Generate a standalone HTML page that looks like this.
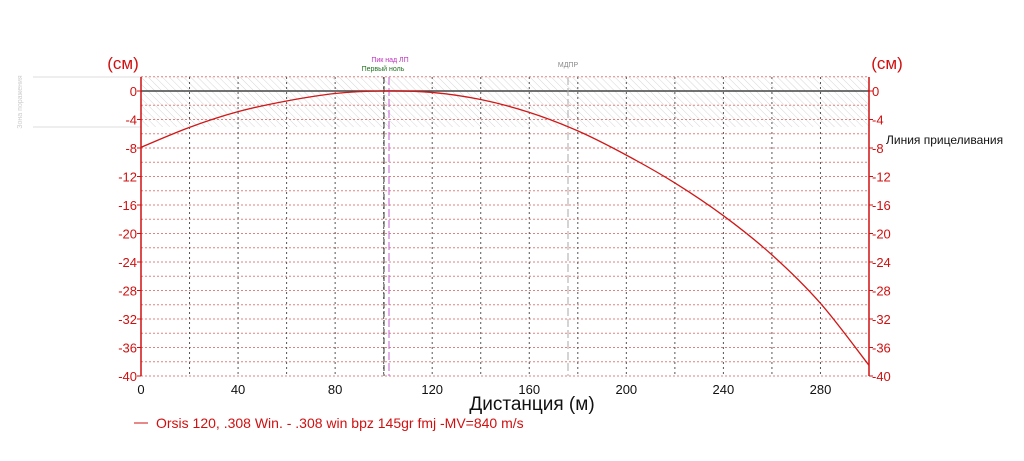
<!DOCTYPE html>
<html><head><meta charset="utf-8"><style>
body{margin:0;background:#fff;width:1024px;height:461px;overflow:hidden}
svg{display:block}
text{font-family:"Liberation Sans","DejaVu Sans",sans-serif}
</style></head><body>
<svg id="s" width="1024" height="461" xmlns="http://www.w3.org/2000/svg">
<defs>
<pattern id="h" width="5" height="5" patternUnits="userSpaceOnUse" patternTransform="rotate(-45)">
<line x1="0" y1="0" x2="0" y2="5" stroke="#ccc" stroke-width="1"/>
</pattern>
</defs>
<rect x="141" y="77" width="728" height="50" fill="url(#h)" opacity="0.8"/>
<line x1="33" y1="77" x2="141" y2="77" stroke="#ddd"/>
<line x1="33" y1="127" x2="141" y2="127" stroke="#ddd"/>
<text transform="translate(22,102) rotate(-90)" font-size="7" fill="#ccc" text-anchor="middle">Зона поражения</text>
<g id="grid"></g>
<line x1="141" y1="91" x2="869" y2="91" stroke="#444" stroke-width="1.5"/>
<line x1="384" y1="77" x2="384" y2="376" stroke="#333" stroke-dasharray="6,3"/>
<line x1="389" y1="77" x2="389" y2="376" stroke="#c060d0" stroke-dasharray="8,3"/>
<line x1="568" y1="77" x2="568" y2="376" stroke="#aaa" stroke-dasharray="8,3"/>
<line x1="141" y1="77" x2="141" y2="376" stroke="#d01010" stroke-width="1.5"/>
<line x1="869" y1="77" x2="869" y2="376" stroke="#d01010" stroke-width="1.5"/>
<path id="c" fill="none" stroke="#d01818" stroke-width="1.3"/>
<text x="390" y="62" font-size="7" fill="#c030c0" text-anchor="middle">Пик над ЛП</text>
<text x="383" y="71" font-size="7" fill="#207020" text-anchor="middle">Первый ноль</text>
<text x="568" y="67" font-size="7" fill="#888" text-anchor="middle">МДПР</text>
<text x="123" y="69" font-size="17" fill="#d01010" text-anchor="middle">(см)</text>
<text x="887" y="69" font-size="17" fill="#d01010" text-anchor="middle">(см)</text>
<text x="886" y="144" font-size="12" fill="#111">Линия прицеливания</text>
<text x="532" y="410" font-size="19" fill="#111" text-anchor="middle">Дистанция (м)</text>
<line x1="134" y1="423" x2="148" y2="423" stroke="#d01010"/>
<text x="156" y="428" font-size="14" fill="#d01010">Orsis 120, .308 Win. - .308 win bpz 145gr fmj -MV=840 m/s</text>
<g id="lab"></g>
</svg>
<script>
var ns="http://www.w3.org/2000/svg",g=document.getElementById('grid'),lab=document.getElementById('lab');
function X(m){return 141+m*728/300}function Y(c){return 91-c*7.125}
function el(p,t,a){var e=document.createElementNS(ns,t);for(var k in a)e.setAttribute(k,a[k]);p.appendChild(e);return e}
for(var c=2;c>=-40;c-=2){el(g,'line',{x1:141,x2:869,y1:Y(c),y2:Y(c),stroke:'#e08080','stroke-dasharray':'2,2'});}
for(var m=20;m<300;m+=20){el(g,'line',{x1:X(m),x2:X(m),y1:77,y2:376,stroke:'#555','stroke-dasharray':'2,3'});}
for(var c=0;c>=-40;c-=4){var t=el(lab,'text',{x:137,y:Y(c)+5,'font-size':13,fill:'#d01010','text-anchor':'end'});t.textContent=c;
t=el(lab,'text',{x:872,y:Y(c)+5,'font-size':13,fill:'#d01010'});t.textContent=c;
el(lab,'line',{x1:137,x2:141,y1:Y(c),y2:Y(c),stroke:'#d01010'});el(lab,'line',{x1:869,x2:873,y1:Y(c),y2:Y(c),stroke:'#d01010'});}
for(var m=0;m<=280;m+=40){var t=el(lab,'text',{x:X(m),y:394,'font-size':13,fill:'#111','text-anchor':'middle'});t.textContent=m;}
var pts=[[0,-7.9],[20,-5.1],[40,-2.9],[60,-1.4],[80,-0.35],[100,0],[120,-0.2],[140,-1.2],[160,-3],[180,-5.6],[200,-9],[220,-12.9],[240,-17.5],[260,-23],[280,-29.8],[300,-38.5]];
var d='M'+X(0)+','+Y(pts[0][1]);
for(var i=0;i<pts.length-1;i++){var p0=pts[Math.max(0,i-1)],p1=pts[i],p2=pts[i+1],p3=pts[Math.min(pts.length-1,i+2)];
var c1x=X(p1[0]+(p2[0]-p0[0])/6),c1y=Y(p1[1]+(p2[1]-p0[1])/6),c2x=X(p2[0]-(p3[0]-p1[0])/6),c2y=Y(p2[1]-(p3[1]-p1[1])/6);
d+=' C'+c1x+','+c1y+' '+c2x+','+c2y+' '+X(p2[0])+','+Y(p2[1]);}
document.getElementById('c').setAttribute('d',d);
</script>
</body></html>
